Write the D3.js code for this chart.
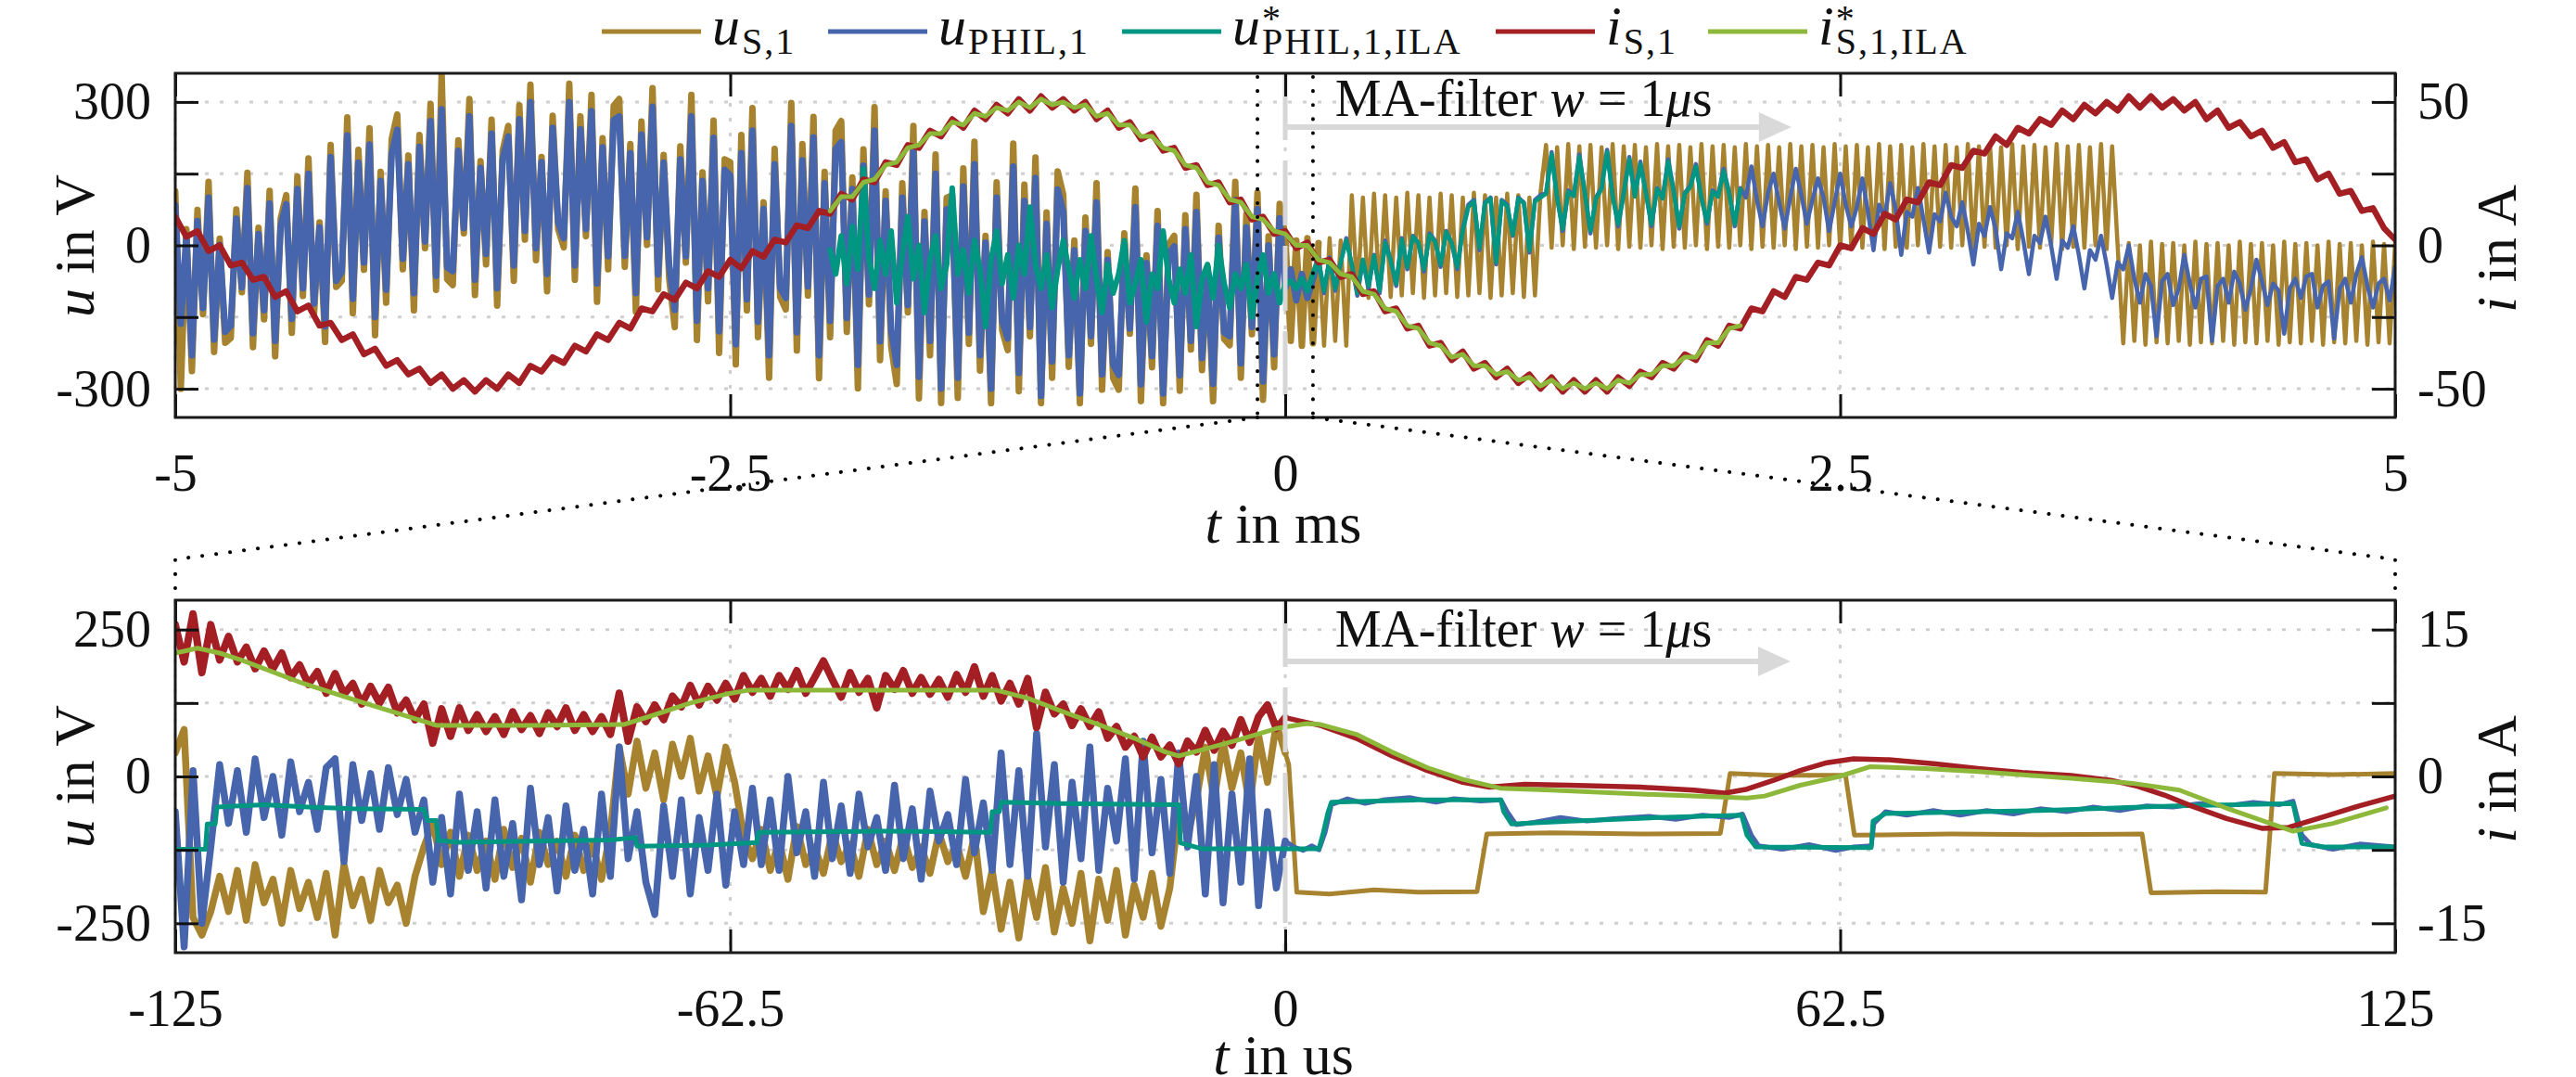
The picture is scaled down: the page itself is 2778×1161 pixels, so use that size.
<!DOCTYPE html>
<html>
<head>
<meta charset="utf-8">
<script src="https://cdn.jsdelivr.net/npm/d3@7/dist/d3.min.js"></script>
<style>
  body { margin: 0; background: #fff; }
  svg text { font-family: "Liberation Serif", "Times New Roman", serif; fill: #111; }
</style>
</head>
<body>
<script>
// ---------------- data: top panel (t in ms) ----------------
// u_S,1 and u_PHIL,1 sampled every 0.025 ms from -5 ms
var topGoldU = [
  113,-300,34,-263,74,-144,133,-223,14,-204,
  -194,75,-98,152,-213,37,-155,114,-232,56,
  105,-183,144,-106,182,-144,48,-202,210,-87,
  -74,268,-142,200,-51,245,-188,154,-120,222,
  274,-50,188,-136,231,-6,296,-93,357,-71,
  -83,220,25,306,-104,176,-40,263,-126,198,
  250,-74,293,12,336,-31,185,-96,271,34,
  -4,338,-72,270,19,315,-118,224,-50,292,
  306,-45,212,-139,259,1,329,-92,189,-69,
  -171,207,-36,315,-198,153,-117,261,-225,180,
  174,-249,231,-136,287,-192,90,-277,202,-108,
  -134,298,-220,212,-105,269,-278,154,-192,240,
  260,-181,142,-299,201,-123,289,-240,113,-211,
  -290,130,-140,250,-320,70,-230,190,-330,100,
  104,-319,161,-206,217,-262,20,-330,132,-178,
  -219,213,-305,127,-190,184,-330,69,-277,155,
  106,-254,10,-330,58,-206,130,-302,-14,-278,
  -302,25,-185,119,-326,-21,-255,72,-330,2,
  20,-304,63,-218,106,-261,-45,-326,41,-196,
  -209,133,-277,65,-186,110,-323,19,-255,87,
  20,
  -200,10,-210,15,-205,5,-210,15,-200,10,-210,
  105,-105,100,-110,108,-100,105,-108,100,-105,110,-100,105,-110,100,-105,108,-100,
  105,-108,100,-105,110,-100,105,-110,100,-105,108,-100,105,-108,100,-105,110,
  210,-5,205,0,212,-8,207,-3, 210,-5,205,0,212,-8,207,-3, 210,-5,205,0,212,-8,207,-3,
  210,-5,205,0,212,-8,207,-3, 210,-5,205,0,212,-8,207,-3, 210,-5,205,0,212,-8,207,-3,
  210,-5,205,0,212,-8,207,-3, 210,-5,205,0,212,-8,207,-3, 210,-5,205,0,212,-8,207,-3,
  210,-5,205,0,212,-8,207,-3, 210,-5,205,0,212,-8,207,-3, 210,-5,205,0,212,-8,207,-3,
  210,-5,205,0,212,-8,207,-3,
  -205,5,-200,0,-208,8,-203,3, -205,5,-200,0,-208,8,-203,3, -205,5,-200,0,-208,8,-203,3,
  -205,5,-200,0,-208,8,-203,3, -205,5,-200,0,-208,8,-203,3, -205,5,-200,0,-208,8,-203,3,
  -205,5
];
var topBlueU = [
  84,-164,18,-230,51,-131,100,-197,1,-181,
  -168,56,-88,120,-184,24,-136,88,-200,40,
  86,-154,118,-90,150,-122,38,-170,185,-74,
  -55,230,-112,173,-36,211,-150,135,-93,192,
  242,-28,170,-100,206,8,260,-64,285,-46,
  -54,198,36,270,-72,162,-18,234,-90,180,
  228,-42,264,30,300,-6,174,-60,246,48,
  15,300,-42,243,34,281,-80,205,-23,262,
  270,-22,193,-100,232,17,290,-61,173,-42,
  -135,180,-23,270,-158,135,-90,225,-180,158,
  146,-207,193,-113,240,-160,76,-230,170,-89,
  -110,250,-182,178,-86,226,-230,130,-158,202,
  216,-152,118,-250,167,-103,240,-201,93,-177,
  -250,100,-125,200,-275,50,-200,150,-300,75,
  76,-277,123,-183,170,-230,6,-300,100,-159,
  -195,165,-267,93,-171,141,-315,45,-243,117,
  70,-230,-10,-310,30,-190,90,-270,-30,-250,
  -271,2,-174,80,-291,-37,-232,41,-310,-18,
  -2,-272,34,-200,70,-236,-56,-290,16,-182,
  -190,95,-247,38,-171,76,-285,0,-228,57,
  -90,
  -50,-115,-60,-110,-70,
  -30,-100,-25,-95,-35,15,-40,-105,-30,-90,-20,-100,10,-30,-85,
  15,-50,20,5,-55,25,10,-45,30,5,-50,35,
  85,95,-10,90,100,-40,95,85,20,100,90,-15,95,105,
  110,195,100,30,115,105,190,110,25,100,120,200,105,40,110,185,
  105,175,110,40,120,100,180,115,35,110,125,170,100,45,115,105,160,110,40,120,
  100,165,95,40,110,150,90,35,100,160,105,45,95,140,100,30,90,150,85,40,
  80,140,70,-10,85,60,130,75,-20,70,60,120,55,-15,65,50,110,60,
  40,90,30,-40,45,20,80,35,-50,25,15,70,10,-60,20,5,60,0,-70,10,
  -5,40,-20,-90,-10,-30,20,-40,-110,-35,-50,0,
  -70,-120,-60,-85,-190,-75,-60,-125,-90,-20,-80,-130,-70,-65,-200,-85,
  -70,-120,-55,-80,-135,-90,-30,-75,-125,-80,-95,-185,-90,-70,-110,-65,
  -60,-130,-85,-75,-195,-90,-70,-120,-60,-25,-85,-130,-80,-70,-115,-45
];
// u*_PHIL,1,ILA every 0.025 ms from -2.05 ms
var topTealU = [
  -10,-60,20,-80,40,-50,160,-30,-90,10,-60,30,-120,-20,60,-70,0,-140,-30,20,-90,-40,
  120,-60,-10,-100,10,-50,-170,-30,30,-80,-20,-110,0,-60,80,-40,-90,-20,-130,-50,10,
  -50,-110,-30,-90,20,-70,-140,-40,-100,-60,10,-120,-80,-30,-160,-60,-90,30,-70,-120,
  -50,-100,-20,-170,-70,-40,-110,0,-80,-130,-60,-90,-40,-150,-70,-20,-100,-60,-120,-80,
  -75,-90,-70,-95,-60,
  -30,-95,-28,-90,-35,10,-40,-100,-30,-85,-22,-95,5,-32,-80,
  12,-45,18,5,-50,22,8,-40,28,5,-45,30,
  80,92,-5,88,98,-35,92,82,22,98,88,-10,92,100,
  108,190,98,35,112,103,185,108,30,98,118,195,102,45,108,180,
  102,170,108,45,118,98,175,112,40,108,122,165,98,50,112,102,155,108,45,118
];
// i_S,1 every 0.05 ms from -5 ms
var topRedI = [
  10,3,5,-2,0,-7,-6,-12,-11,-18,
  -16,-23,-21,-28,-27,-33,-31,-38,-36,-42,
  -40,-45,-43,-48,-45,-50,-47,-51,-47,-50,
  -45,-48,-42,-44,-39,-41,-35,-37,-31,-33,
  -27,-29,-22,-23,-17,-19,-13,-15,-9,-11,
  -5,-8,-2,-4,2,1,7,6,12,11,
  18,16,23,22,29,28,35,34,40,38,
  44,41,47,44,49,46,51,47,52,48,
  51,47,50,44,47,41,43,37,39,33,
  34,27,28,21,22,15,16,9,10,4,
  5,-1,1,-6,-5,-11,-10,-17,-16,-23,
  -22,-29,-28,-35,-34,-40,-37,-43,-41,-46,
  -43,-48,-45,-50,-46,-51,-47,-51,-47,-51,
  -46,-49,-44,-46,-41,-43,-38,-40,-33,-35,
  -28,-29,-22,-23,-16,-18,-11,-12,-6,-7,
  0,-1,6,4,11,9,16,15,22,21,
  28,27,33,32,38,35,41,39,44,42,
  47,44,49,46,50,47,52,48,52,48,
  51,47,50,44,47,41,43,38,40,34,
  36,29,30,23,25,18,19,12,13,6,
  2
];
// i*_S,1,ILA every 0.05 ms from -2.05 ms
var topGreenI = [
  12,
  17,17,22,23,28,29,34,35,39,39,
  43,42,46,45,48,47,50,48,51,49,
  50,48,49,45,46,42,42,38,38,34,
  33,28,27,22,21,16,15,10,9,5,
  4,0,0,-5,-6,-10,-11,-16,-17,-22,
  -23,-28,-29,-34,-35,-39,-38,-42,-42,-45,
  -44,-47,-46,-49,-47,-50,-48,-50,-48,-50,
  -47,-48,-45,-45,-42,-42,-39,-39,-34,-34,
  -29,-28
];

// ---------------- data: bottom panel (t in us) ----------------
// noisy part before the filter starts, every 1 us from -125 us
var botGoldNoise = [
  40,80,-240,-270,-230,-170,-230,-160,-245,-150,
  -215,-175,-250,-160,-225,-180,-240,-165,-270,-150,
  -220,-175,-245,-160,-215,-185,-250,-170,-120,-80,
  -150,-95,-170,-100,-160,-110,-175,-90,-155,-105,
  -180,-95,-150,-110,-170,-100,-160,-115,-175,-95,
  50,-30,60,-20,40,-40,55,0,65,-25,
  35,-35,50,-10,-100,-140,-90,-160,-110,-175,
  -85,-150,-120,-165,-95,-145,-115,-170,-90,-150,
  -110,-160,-100,-155,-120,-165,-95,-145,-115,-170,
  -100,-230,-160,-260,-180,-275,-170,-240,-155,-265,
  -190,-250,-165,-280,-175,-245,-160,-270,-185,-240,
  -165,-255,-190,-60,-100,-40,50,-40,60,-20,
  40,-50,70,-10,90,40
];
var botBlueNoise = [
  -60,-290,10,-250,-120,20,-80,10,-95,30,
  -70,0,-100,25,-60,-10,-90,15,30,-145,
  20,-75,5,-90,15,-65,-5,-95,-40,-180,
  -70,-200,-30,-160,-60,-190,-40,-170,-80,-210,
  -20,-150,-70,-195,-50,-160,-90,-200,-30,-170,
  50,-140,-60,-180,-235,-50,-170,-40,-200,-70,
  -160,-30,-185,-60,-150,-20,-150,-40,-160,0,
  -130,-60,-170,-10,-140,-50,-165,-30,-120,-70,
  -160,-15,-140,-55,-175,-25,-110,-65,-150,-5,
  -130,-45,-160,40,-150,10,-170,73,-120,20,
  -180,-10,-140,50,-160,-20,-110,30,-175,60,
  -130,-5,-165,40,-120,0,-200,20,-215,-30,
  -180,30,-220,-60,-190,-110
];
var botRedNoise = [
  15.5,11.7,16.6,10.6,15.5,11.9,14.3,11.7,13.2,11.0,
  12.8,11.0,12.6,10.1,11.4,9.4,10.7,8.5,10.5,8.4,
  9.5,7.4,9.2,7.5,9.1,6.5,7.8,5.8,7.4,3.4,
  6.9,4.1,7.0,4.7,6.3,4.6,6.1,4.3,6.6,4.8,
  6.2,4.4,6.5,5.1,7.0,4.7,6.3,4.6,6.1,4.3,
  8.5,3.6,7.1,5.6,7.3,5.8,8.2,7.1,9.3,7.3,
  9.2,7.8,9.5,7.9,10.3,8.6,10.0,8.2,10.3,8.9,
  10.8,8.5,10.1,11.8,9.9,8.1,10.6,8.6,10.0,7.0,
  10.3,8.9,10.8,8.5,10.1,8.4,9.9,8.1,10.4,8.6,
  11.2,8.2,10.3,7.7,9.5,7.4,10.0,5.0,8.6,6.4,
  7.4,5.2,6.9,5.1,6.6,3.9,5.1,3.0,4.1,2.0,
  4.0,2.0,3.2,1.3,3.6,2.5,4.7,2.7,4.6,3.2,
  5.8,3.5,6.1,7.3,4.9,6.0
];
// filtered part after 0 us, [t, value]
var botGoldTail = [[0,40],[0.4,20],[1.3,-197],[5,-200],[10,-193],[15,-197],[21.6,-196],[22.7,-98],
  [30,-96],[40,-98],[49,-97],[50.1,5],[55,2],[63.1,2],[64.1,-100],[75,-98],[85,-99],[96.5,-98],
  [97.5,-198],[105,-196],[110.4,-197],[111.4,5],[118,3],[125,5]];
var botBlueTail = [[0,-110],[1,-120],[2,-126],[3,-118],[3.8,-125],[4.5,-95],[5.2,-48],[7,-38],[9,-46],
  [11,-40],[14,-36],[17,-44],[19,-38],[22,-42],[24.3,-40],[25,-60],[26,-82],[28,-78],[31,-70],[34,-76],
  [37,-72],[41,-68],[44,-73],[47,-66],[50,-70],[51.5,-64],[52.5,-100],[53.3,-118],[56,-124],[59,-116],
  [62,-126],[64,-120],[66,-118],[66.3,-80],[67.6,-60],[70,-66],[73,-58],[76,-66],[79,-58],[82,-64],
  [85,-55],[88,-60],[91,-52],[94,-58],[97,-50],[100,-52],[103,-46],[106,-50],[109,-44],[112,-48],
  [113.5,-42],[114.5,-100],[115.5,-116],[118,-124],[121,-115],[125,-120]];
var botRedTail = [[0,6.0],[1.5,5.7],[4,5.2],[8,3.9],[12,2.1],[16,0.6],[20,-0.6],[23,-1.1],[27,-0.8],
  [32,-0.9],[40,-1.1],[46,-1.4],[49.5,-1.7],[52,-1.3],[55,-0.4],[58,0.6],[61,1.4],[64,1.8],[68,1.7],
  [73,1.3],[78,0.8],[83,0.4],[88.5,0.1],[93,-0.4],[96,-1.0],[99,-1.9],[102,-3.0],[106,-4.3],[110,-5.3],
  [113,-5.2],[117,-4.1],[121,-3.0],[125,-2.0]];
var botTealU = [[-125,-124],[-121.6,-124],[-121.4,-81],[-120.5,-81],[-120.3,-52],[-115,-48],[-110,-52],
  [-105,-55],[-97,-56],[-96.6,-75],[-95.6,-75],[-95.4,-109],[-93,-112],[-85,-110],[-76,-108],[-73.2,-104],
  [-73,-119],[-65,-117],[-60,-113],[-59.5,-113],[-59.3,-95],[-45,-93],[-33.2,-95],[-33,-60],[-32.2,-60],
  [-32,-44],[-25,-46],[-12,-48],[-11.8,-113],[-9.4,-123],[3.8,-123],[4.3,-95],[4.8,-62],[5.2,-44],
  [15,-40],[24.3,-40],[24.6,-60],[25.5,-81],[32,-76],[42,-70],[51.4,-66],[52,-100],[53,-120],[66,-121],
  [66.2,-76],[67.6,-63],[85,-58],[100.4,-50],[113.5,-46],[114,-80],[114.5,-114],[117,-120],[125,-120]];
var botGreenI = [[-125,12.6],[-122.5,13.1],[-120,12.6],[-117.6,11.9],[-110.6,9.5],[-103.7,7.5],
  [-95.5,5.2],[-85,5.2],[-74.5,5.3],[-71,6.3],[-67,7.5],[-63,8.4],[-60.5,8.8],[-32.5,8.8],[-29,8.0],
  [-25,6.6],[-21,5.3],[-17,3.9],[-13.5,2.5],[-12,2.1],[-9,2.8],[-5,3.8],[-1,4.9],[2.4,5.4],[4,5.3],
  [8,4.3],[12,2.5],[16,0.9],[20,-0.3],[24.2,-1.2],[30,-1.4],[40,-1.8],[52,-2.2],[54,-2.0],[58,-0.9],
  [62.4,0.0],[65.9,1.0],[72,0.8],[78,0.5],[88.5,-0.2],[95.4,-0.7],[100.7,-1.4],[105.9,-3.2],
  [113.5,-5.6],[118,-4.8],[124,-3.2]];

// ticks and labels
var topXTicks = [-5, -2.5, 0, 2.5, 5];
var topUTicks = [-300, -150, 0, 150, 300], topULabels = [-300, 0, 300];
var topITicks = [-50, -25, 0, 25, 50], topILabels = [-50, 0, 50];
var botXTicks = [-125, -62.5, 0, 62.5, 125];
var botUTicks = [-250, -125, 0, 125, 250], botULabels = [-250, 0, 250];
var botITicks = [-15, -7.5, 0, 7.5, 15], botILabels = [-15, 0, 15];

var colors = {uS: "#a8832f", uP: "#4765ad", uPs: "#009682", iS: "#a31f24", iSs: "#8db83a"};

// ---------------- layout ----------------
var width = 2778, height = 1161;
var left = 189, right = 2583;
var top1 = 79, bot1 = 450, top2 = 647, bot2 = 1027;

var svg = d3.select("body").append("svg")
    .attr("width", width)
    .attr("height", height);

var xTop = d3.scaleLinear().domain([-5, 5]).range([left, right]);
var uTop = d3.scaleLinear().domain([-360, 360]).range([bot1, top1]);
var iTop = d3.scaleLinear().domain([-60, 60]).range([bot1, top1]);
var xBot = d3.scaleLinear().domain([-125, 125]).range([left, right]);
var uBot = d3.scaleLinear().domain([-300, 300]).range([bot2, top2]);
var iBot = d3.scaleLinear().domain([-18, 18]).range([bot2, top2]);

function seq(vals, t0, dt) {
  return vals.map(function(v, i) { return [t0 + i * dt, v]; });
}

svg.append("clipPath").attr("id", "c1").append("rect")
  .attr("x", left).attr("y", top1).attr("width", right - left).attr("height", bot1 - top1);
svg.append("clipPath").attr("id", "c2").append("rect")
  .attr("x", left).attr("y", top2).attr("width", right - left).attr("height", bot2 - top2);

function grid(xs, ys, xt, yt, y0, y1) {
  var g = svg.append("g").attr("stroke", "#cfcfcf").attr("stroke-width", 3).attr("stroke-dasharray", "4,12");
  yt.forEach(function(v) {
    g.append("line").attr("x1", left).attr("x2", right).attr("y1", ys(v)).attr("y2", ys(v));
  });
  xt.forEach(function(v) {
    g.append("line").attr("x1", xs(v)).attr("x2", xs(v)).attr("y1", y0).attr("y2", y1);
  });
}

function drawLine(g, data, xs, ys, color, w) {
  g.append("path").datum(data)
    .attr("d", d3.line().x(function(d) { return xs(d[0]); }).y(function(d) { return ys(d[1]); }))
    .attr("fill", "none").attr("stroke", color).attr("stroke-width", w)
    .attr("stroke-linejoin", "round").attr("stroke-linecap", "round");
}
// noisy stretch drawn heavier than the filtered stretch that follows it
function drawSplit(g, data, cut, xs, ys, color, wNoise, wClean) {
  drawLine(g, data.slice(0, cut + 1), xs, ys, color, wNoise);
  drawLine(g, data.slice(cut), xs, ys, color, wClean);
}

function styleAxis(sel) {
  sel.attr("font-size", 56).attr("font-family", "Liberation Serif, serif");
  sel.select(".domain").remove();
  sel.selectAll(".tick line").attr("stroke", "#111").attr("stroke-width", 3);
  sel.selectAll(".tick text").attr("fill", "#111");
}
function fmt(labels) {
  return function(d) { return labels.indexOf(d) >= 0 ? String(d) : ""; };
}

function axes(xs, yl, yr, xt, ylt, yll, yrt, yrl, y0, y1) {
  svg.append("g").attr("transform", "translate(" + left + ",0)")
    .call(d3.axisLeft(yl).tickValues(ylt).tickSize(-25).tickPadding(26).tickFormat(fmt(yll))).call(styleAxis);
  svg.append("g").attr("transform", "translate(" + right + ",0)")
    .call(d3.axisRight(yr).tickValues(yrt).tickSize(-25).tickPadding(24).tickFormat(fmt(yrl))).call(styleAxis);
  svg.append("g").attr("transform", "translate(0," + y1 + ")")
    .call(d3.axisBottom(xs).tickValues(xt).tickSize(-25).tickPadding(39).tickFormat(function(d) { return String(d); })).call(styleAxis);
  svg.append("g").attr("transform", "translate(0," + y0 + ")")
    .call(d3.axisTop(xs).tickValues(xt).tickSize(-25).tickFormat("")).call(styleAxis);
  svg.append("rect").attr("x", left).attr("y", y0).attr("width", right - left).attr("height", y1 - y0)
    .attr("fill", "none").attr("stroke", "#1a1a1a").attr("stroke-width", 3);
}

function zeroMarker(xs, y0, y1) {
  svg.append("line").attr("x1", xs(0)).attr("x2", xs(0)).attr("y1", y0 + 2).attr("y2", y1 - 2)
    .attr("stroke", "#d6d6d6").attr("stroke-width", 5).attr("stroke-dasharray", "70,22");
}

function maNote(xs, tText, tTip, yText, yArrow) {
  var x0 = xs(0), tip = xs(tTip);
  svg.append("line").attr("x1", x0).attr("x2", tip - 32).attr("y1", yArrow).attr("y2", yArrow)
    .attr("stroke", "#d9d9d9").attr("stroke-width", 6);
  svg.append("path").attr("d", "M" + (tip - 35) + "," + (yArrow - 16) + "L" + tip + "," + yArrow + "L" + (tip - 35) + "," + (yArrow + 16) + "Z")
    .attr("fill", "#d9d9d9");
  var t = svg.append("text").attr("x", xs(tText)).attr("y", yText).attr("font-size", 56).style("white-space", "pre");
  t.append("tspan").text("MA-filter ");
  t.append("tspan").attr("font-style", "italic").text("w");
  t.append("tspan").text(" = 1");
  t.append("tspan").attr("font-style", "italic").text("\u03bc");
  t.append("tspan").text("s");
}

function axisTitle(x, y, rot, v, rest) {
  var t = svg.append("text").attr("font-size", 62).attr("text-anchor", "middle").style("white-space", "pre")
    .attr("transform", "translate(" + x + "," + y + ")" + (rot ? " rotate(-90)" : ""));
  t.append("tspan").attr("font-style", "italic").text(v);
  t.append("tspan").text(rest);
}

// ---------------- top panel ----------------
grid(xTop, uTop, topXTicks, topUTicks, top1, bot1);
var g1 = svg.append("g").attr("clip-path", "url(#c1)");
drawSplit(g1, seq(topGoldU, -5, 0.025), 206, xTop, uTop, colors.uS, 7, 4.5);
drawSplit(g1, seq(topBlueU, -5, 0.025), 206, xTop, uTop, colors.uP, 7, 4.5);
drawSplit(g1, seq(topTealU, -2.05, 0.025), 88, xTop, uTop, colors.uPs, 6, 4.5);
drawLine(g1, seq(topRedI, -5, 0.05), xTop, iTop, colors.iS, 6.5);
drawLine(g1, seq(topGreenI, -2.05, 0.05), xTop, iTop, colors.iSs, 5);
zeroMarker(xTop, top1, bot1);
axes(xTop, uTop, iTop, topXTicks, topUTicks, topULabels, topITicks, topILabels, top1, bot1);
maNote(xTop, 0.225, 2.28, 125, 137);

// zoom window markers
var dots = svg.append("g").attr("fill", "none").attr("stroke", "#000").attr("stroke-width", 4)
  .attr("stroke-linecap", "round").attr("stroke-dasharray", "0.1,15");
[-0.125, 0.125].forEach(function(t) {
  dots.append("line").attr("x1", xTop(t)).attr("x2", xTop(t)).attr("y1", top1 + 4).attr("y2", bot1);
});
dots.append("path").attr("d", "M" + xTop(-0.125) + "," + bot1 + "L" + left + ",603L" + left + ",636");
dots.append("path").attr("d", "M" + xTop(0.125) + "," + bot1 + "L" + right + ",603L" + right + ",636");

axisTitle(101, 265, true, "u", " in V");
axisTitle(2713, 268, true, "i", " in A");
axisTitle(1384, 585, false, "t", " in ms");

// ---------------- bottom panel ----------------
grid(xBot, uBot, botXTicks, botUTicks, top2, bot2);
var g2 = svg.append("g").attr("clip-path", "url(#c2)");
var nb = botGoldNoise.length - 1;
drawSplit(g2, seq(botGoldNoise, -125, 1).concat(botGoldTail.slice(1)), nb, xBot, uBot, colors.uS, 7.5, 5);
drawSplit(g2, seq(botBlueNoise, -125, 1).concat(botBlueTail.slice(1)), nb, xBot, uBot, colors.uP, 7.5, 5);
drawLine(g2, botTealU, xBot, uBot, colors.uPs, 5);
drawSplit(g2, seq(botRedNoise, -125, 1).concat(botRedTail.slice(1)), nb, xBot, iBot, colors.iS, 8, 5.5);
drawLine(g2, botGreenI, xBot, iBot, colors.iSs, 5);
zeroMarker(xBot, top2, bot2);
axes(xBot, uBot, iBot, botXTicks, botUTicks, botULabels, botITicks, botILabels, top2, bot2);
maNote(xBot, 5.6, 56.9, 697, 713);

axisTitle(101, 837, true, "u", " in V");
axisTitle(2713, 840, true, "i", " in A");
axisTitle(1384, 1158, false, "t", " in us");

// ---------------- legend ----------------
function legendEntry(x0, color, main, sup, sub) {
  svg.append("line").attr("x1", x0).attr("x2", x0 + 107).attr("y1", 34).attr("y2", 34)
    .attr("stroke", color).attr("stroke-width", 5);
  var m = svg.append("text").attr("x", x0 + 119).attr("y", 48).attr("font-size", 60)
    .attr("font-style", "italic").text(main);
  var w = m.node().getComputedTextLength();
  svg.append("text").attr("x", x0 + 121 + w).attr("y", 58).attr("font-size", 40)
    .attr("letter-spacing", 2).text(sub);
  if (sup) svg.append("text").attr("x", x0 + 121 + w).attr("y", 33).attr("font-size", 40).text(sup);
}
legendEntry(649, colors.uS, "u", null, "S,1");
legendEntry(893, colors.uP, "u", null, "PHIL,1");
legendEntry(1210, colors.uPs, "u", "*", "PHIL,1,ILA");
legendEntry(1613, colors.iS, "i", null, "S,1");
legendEntry(1842, colors.iSs, "i", "*", "S,1,ILA");
</script>
</body>
</html>
